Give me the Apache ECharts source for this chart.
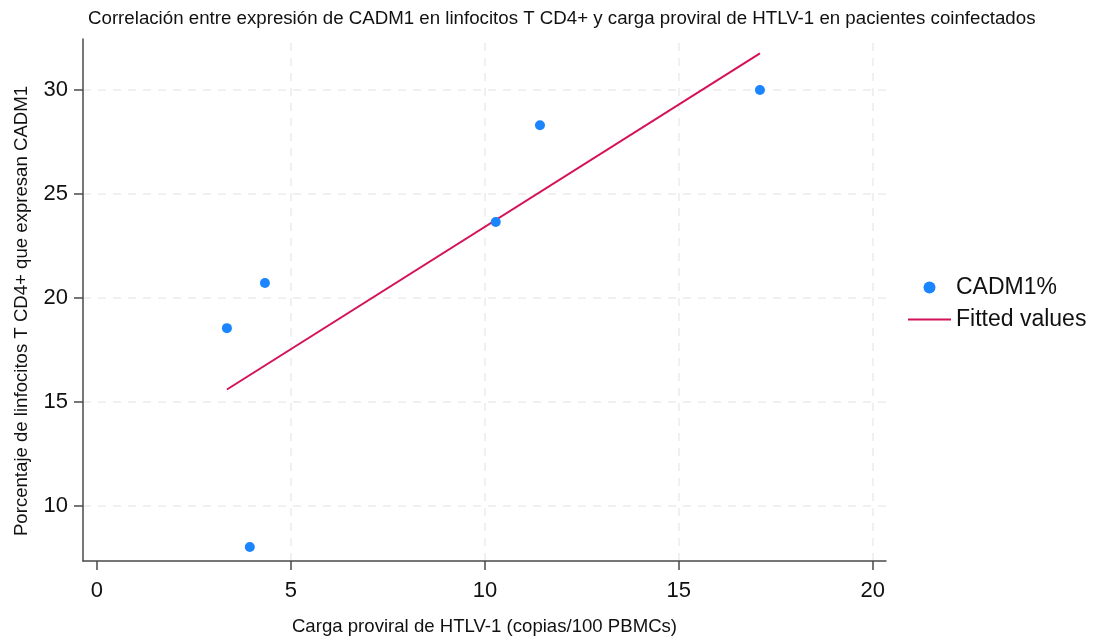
<!DOCTYPE html>
<html>
<head>
<meta charset="utf-8">
<script src="https://cdn.jsdelivr.net/npm/echarts@6/dist/echarts.min.js"></script>
<style>
  html, body { margin: 0; padding: 0; background: #fff; }
  #chart { width: 1096px; height: 641px; }
</style>
</head>
<body>
<div id="chart"></div>
<script>
// data
const cargaProviral = [3.35, 3.94, 4.33, 10.28, 11.42, 17.09];
const cadm1Pct = [18.55, 8.03, 20.72, 23.65, 28.3, 30.0];
const fittedX = [3.35, 17.09];
const fittedY = [15.6, 31.76];
const xTicks = [0, 5, 10, 15, 20];
const yTicks = [10, 15, 20, 25, 30];
const xGrid = [5, 10, 15, 20];

const font = 'Liberation Sans, Arial, sans-serif';
const axisColor = '#4a4a4a';
const gridStyle = { color: '#ebebeb', width: 1.5, type: [8, 7] };

const chart = echarts.init(document.getElementById('chart'));

const scatterData = cargaProviral.map((x, i) => [x, cadm1Pct[i]]);
const fitData = fittedX.map((x, i) => [x, fittedY[i]]);
const gridLines = xGrid.map(v => ({ xAxis: v })).concat(yTicks.map(v => ({ yAxis: v })));

const option = {
  animation: false,
  backgroundColor: '#fff',
  textStyle: { fontFamily: font },
  title: {
    text: 'Correlación entre expresión de CADM1 en linfocitos T CD4+ y carga proviral de HTLV-1 en pacientes coinfectados',
    left: 83,
    top: 4,
    textStyle: { fontFamily: font, fontSize: 18.7, fontWeight: 'normal', color: '#111' }
  },
  legend: {
    orient: 'vertical',
    left: 903,
    top: 271,
    itemWidth: 43,
    itemHeight: 12,
    itemGap: 9,
    textStyle: { fontFamily: font, fontSize: 23, color: '#111' },
    data: [
      { name: 'CADM1%', icon: 'circle' },
      { name: 'Fitted values', icon: 'path://M0,0 L43,0 L43,2 L0,2 Z' }
    ]
  },
  grid: { left: 83, right: 210, top: 39, bottom: 80, containLabel: false },
  xAxis: {
    type: 'value',
    min: -0.36,
    max: 20.34,
    name: 'Carga proviral de HTLV-1 (copias/100 PBMCs)',
    nameLocation: 'middle',
    nameGap: 56,
    nameTextStyle: { fontFamily: font, fontSize: 18.6, color: '#111' },
    axisLine: { show: true, onZero: false, lineStyle: { color: axisColor, width: 1.5 } },
    axisTick: { show: true, length: 9, customValues: xTicks, lineStyle: { color: axisColor, width: 1.5 } },
    axisLabel: { customValues: xTicks, margin: 19, fontSize: 22, color: '#111', fontFamily: font },
    splitLine: { show: false }
  },
  yAxis: {
    type: 'value',
    min: 7.356,
    max: 32.45,
    name: 'Porcentaje de linfocitos T CD4+ que expresan CADM1',
    nameLocation: 'middle',
    nameGap: 52,
    nameTextStyle: { fontFamily: font, fontSize: 18.6, color: '#111', padding: [0, 22, 0, 0] },
    axisLine: { show: true, onZero: false, lineStyle: { color: axisColor, width: 1.5 } },
    axisTick: { show: true, length: 9, customValues: yTicks, lineStyle: { color: axisColor, width: 1.5 } },
    axisLabel: { customValues: yTicks, margin: 15, fontSize: 22, color: '#111', fontFamily: font },
    splitLine: { show: false }
  },
  series: [
    {
      // background grid only, drawn under the marks
      name: 'grid',
      type: 'line',
      data: [],
      z: 0,
      silent: true,
      markLine: {
        silent: true,
        z: 0,
        symbol: 'none',
        label: { show: false },
        lineStyle: gridStyle,
        emphasis: { disabled: true },
        data: gridLines
      }
    },
    {
      name: 'Fitted values',
      type: 'line',
      data: fitData,
      symbol: 'none',
      z: 2,
      lineStyle: { color: '#d41159', width: 2 },
      itemStyle: { color: '#d41159' }
    },
    {
      name: 'CADM1%',
      type: 'scatter',
      data: scatterData,
      symbolSize: 10,
      z: 3,
      itemStyle: { color: '#1a85ff', opacity: 1 }
    }
  ]
};

chart.setOption(option);
window.addEventListener('resize', () => chart.resize());
</script>
</body>
</html>
